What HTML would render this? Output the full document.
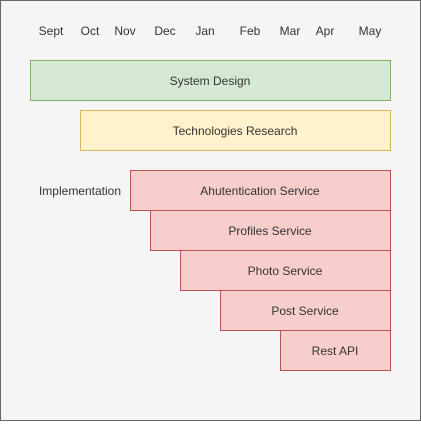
<!DOCTYPE html>
<html><head><style>
body{margin:0;width:421px;height:421px;overflow:hidden}
svg text{font-family:"Liberation Sans",Arial,sans-serif;font-size:12px;fill:#333;text-anchor:middle;dominant-baseline:central}
</style></head><body>
<svg width="421" height="421" xmlns="http://www.w3.org/2000/svg">
<rect x="0.5" y="0.5" width="420" height="420" fill="#f5f5f5" stroke="#666"/>
<g transform="translate(0,1)">
<text x="51" y="30">Sept</text><text x="90" y="30">Oct</text><text x="125" y="30">Nov</text>
<text x="165" y="30">Dec</text><text x="205" y="30">Jan</text><text x="250" y="30">Feb</text>
<text x="290" y="30">Mar</text><text x="325" y="30">Apr</text><text x="370" y="30">May</text>
</g>
<rect x="30.5" y="60.5" width="360" height="40" fill="#d5e8d4" stroke="#82b366"/>
<rect x="80.5" y="110.5" width="310" height="40" fill="#fff2cc" stroke="#d6b656"/>
<g fill="#f8cecc" stroke="#b85450">
<rect x="130.5" y="170.5" width="260" height="40"/>
<rect x="150.5" y="210.5" width="240" height="40"/>
<rect x="180.5" y="250.5" width="210" height="40"/>
<rect x="220.5" y="290.5" width="170" height="40"/>
<rect x="280.5" y="330.5" width="110" height="40"/>
</g>
<g transform="translate(0,1)">
<text x="210" y="80">System Design</text>
<text x="235" y="130">Technologies Research</text>
<text x="80" y="190">Implementation</text>
<text x="260" y="190">Ahutentication Service</text>
<text x="270" y="230">Profiles Service</text>
<text x="285" y="270">Photo Service</text>
<text x="305" y="310">Post Service</text>
<text x="335" y="350">Rest API</text>
</g>
</svg>
</body></html>
